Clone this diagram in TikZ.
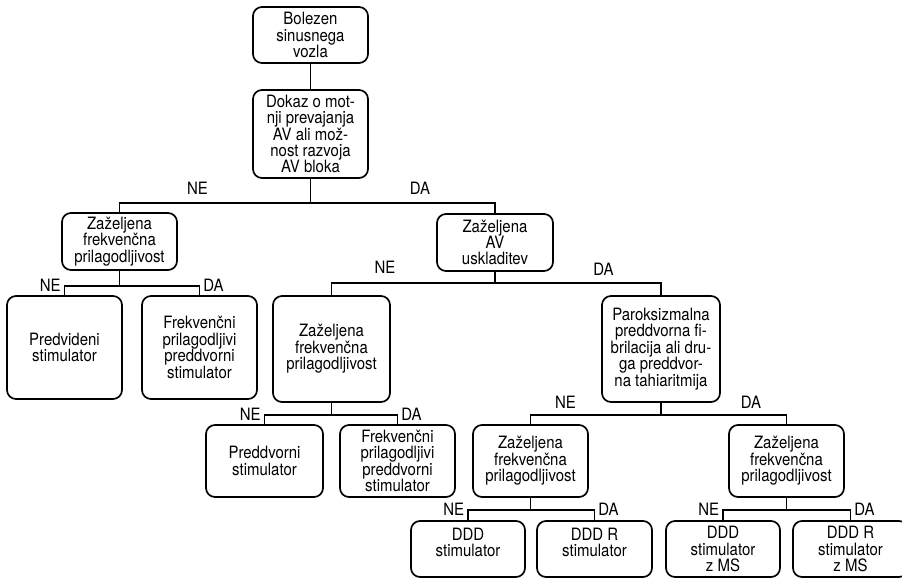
\documentclass[tikz,border=0pt]{standalone}
\usepackage{fontspec}
\setmainfont{TeX Gyre Heros}[FakeStretch=0.88]
\usetikzlibrary{calc}

\begin{document}
\begin{tikzpicture}[x=1pt,y=-1pt,
        box/.style={draw,line width=1.7pt,rounded corners=9pt,align=center,
            inner sep=0pt,minimum width=115pt,font=\fontsize{17}{16.4}\selectfont},
        lbl/.style={inner sep=0pt,font=\fontsize{17}{16.4}\selectfont},
        ne/.style={lbl,anchor=east,xshift=-3pt,yshift=1pt},
        da/.style={lbl,anchor=west,xshift=3pt,yshift=1pt},
        con/.style={line width=1.7pt}]
                \useasboundingbox (0,0) rectangle (902,579);

                \node[box,minimum height=56pt] (bolezen) at (310.5,35) {Bolezen\\sinusnega\\vozla};
                \node[box,minimum height=88pt] (dokaz) at (310.5,134) {Dokaz o mot-\\nji prevajanja\\AV ali mož-\\nost razvoja\\AV bloka};

                \node[box,minimum height=57pt] (frekA) at (119.5,241.5) {Zaželjena\\frekvenčna\\prilagodljivost};
                \node[box,minimum width=116pt,minimum height=57pt] (uskl) at (495,242.5) {Zaželjena\\AV\\uskladitev};

                \node[box,minimum height=103pt] (predv) at (64.5,347.5) {Predvideni\\stimulator};
                \node[box,minimum height=103pt] (stimA) at (199.5,347.5) {Frekvenčni\\prilagodljivi\\preddvorni\\stimulator};
                \node[box,minimum width=117pt,minimum height=106pt] (frekB) at (331.5,349) {Zaželjena\\frekvenčna\\prilagodljivost};
                \node[box,minimum width=118pt,minimum height=106pt] (parok) at (661,349) {Paroksizmalna\\preddvorna fi-\\brilacija ali dru-\\ga preddvor-\\na tahiaritmija};

                \node[box,minimum width=117pt,minimum height=72pt] (preddv) at (264.5,461) {Preddvorni\\stimulator};
                \node[box,minimum height=72pt] (stimB) at (397.5,461) {Frekvenčni\\prilagodljivi\\preddvorni\\stimulator};
                \node[box,minimum height=72pt] (frekC) at (530.5,461) {Zaželjena\\frekvenčna\\prilagodljivost};
                \node[box,minimum height=72pt] (frekD) at (786.5,461) {Zaželjena\\frekvenčna\\prilagodljivost};

                \node[box,minimum width=114pt,minimum height=56pt,text depth=14pt] (ddd) at (468,549) {DDD\\stimulator};
                \node[box,minimum height=56pt,text depth=14pt] (dddr) at (594.5,549) {DDD R\\stimulator};
                \node[box,minimum width=114pt,minimum height=56pt] (dddms) at (723,549) {DDD\\stimulator\\z MS};
                \node[box,minimum height=56pt] (dddrms) at (850.5,549) {DDD R\\stimulator\\z MS};

                \draw[con] (bolezen) -- (dokaz);

                \draw[con] (dokaz.south) -- ++(0,24) -| (frekA.north);
                \draw[con] (dokaz.south) -- ++(0,24) -| (uskl.north);

                \draw[con] (frekA.south) -- ++(0,15) -| node[pos=0.5,ne] (neFrekA) {NE} (predv.north);
                \draw[con] (frekA.south) -- ++(0,15) -| node[pos=0.5,da] (daFrekA) {DA} (stimA.north);
                \draw[con] (uskl.south) -- ++(0,11) -| (frekB.north);
                \draw[con] (uskl.south) -- ++(0,11) -| (parok.north);

                \draw[con] (frekB.south) -- ++(0,12) -| node[pos=0.5,ne] (neFrekB) {NE} (preddv.north);
                \draw[con] (frekB.south) -- ++(0,12) -| node[pos=0.5,da] (daFrekB) {DA} (stimB.north);
                \draw[con] (parok.south) -- ++(0,12) -| (frekC.north);
                \draw[con] (parok.south) -- ++(0,12) -| (frekD.north);

                \draw[con] (frekC.south) -- ++(0,12) -| node[pos=0.5,ne] (neFrekC) {NE} (ddd.north);
                \draw[con] (frekC.south) -- ++(0,12) -| node[pos=0.5,da] (daFrekC) {DA} (dddr.north);
                \draw[con] (frekD.south) -- ++(0,12) -| node[pos=0.5,ne] (neFrekD) {NE} (dddms.north);
                \draw[con] (frekD.south) -- ++(0,12) -| node[pos=0.5,da] (daFrekD) {DA} (dddrms.north);

                % odgovori nad dolgimi vejami
                \node[lbl] (neDokaz) at (197.5,188) {NE};
                \node[lbl] (daDokaz) at (420,188) {DA};
                \node[lbl] (neUskl) at (385,267) {NE};
                \node[lbl] (daUskl) at (603.5,269) {DA};
                \node[lbl] (neParok) at (565.5,402) {NE};
                \node[lbl] (daParok) at (751,402) {DA};
            \end{tikzpicture}
\end{document}
